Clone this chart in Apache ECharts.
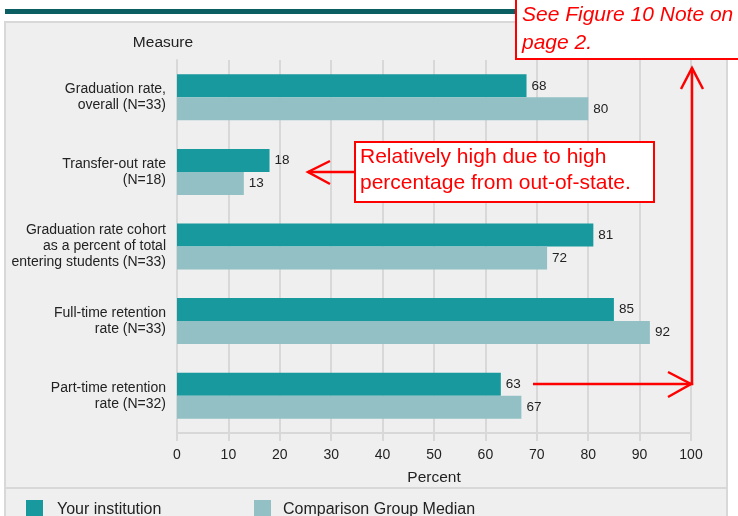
<!DOCTYPE html>
<html>
<head>
<meta charset="utf-8">
<script src="https://cdn.jsdelivr.net/npm/echarts@6/dist/echarts.min.js"></script>
<style>
  html, body { margin: 0; padding: 0; background: #fff; }
</style>
</head>
<body>
<div id="main" style="width: 738px;height:516px;"></div>
<script>
// data
var categories = [
  "Graduation rate,\noverall (N=33)",
  "Transfer-out rate\n(N=18)",
  "Graduation rate cohort\nas a percent of total\nentering students (N=33)",
  "Full-time retention\nrate (N=33)",
  "Part-time retention\nrate (N=32)"
];
var yourInstitution = [68, 18, 81, 85, 63];
var comparisonMedian = [80, 13, 72, 92, 67];
var seriesNames = ["Your institution", "Comparison Group Median"];
var xMin = 0, xMax = 100, xStep = 10;

var FONT = "'Liberation Sans', Arial, sans-serif";
var RED = "#ff0000";
var GRID_GRAY = "#d8d8d8";

var chartDom = document.getElementById("main");
var myChart = echarts.init(chartDom, null, { renderer: "canvas" });

var option = {
  animation: false,
  textStyle: { fontFamily: FONT },
  grid: { left: 177, right: 47, top: 60, bottom: 83 },
  // legend: two separate pieces so they sit where the original has them
  legend: [
    {
      left: 26, top: 500, padding: 0,
      data: [seriesNames[0]],
      icon: "rect", itemWidth: 17, itemHeight: 20,
      textStyle: { color: "#222", fontSize: 16, fontFamily: FONT, padding: [0, 0, 0, 9] }
    },
    {
      left: 254, top: 500, padding: 0,
      data: [seriesNames[1]],
      icon: "rect", itemWidth: 17, itemHeight: 20,
      textStyle: { color: "#222", fontSize: 16, fontFamily: FONT, padding: [0, 0, 0, 7] }
    }
  ],
  xAxis: {
    type: "value",
    min: xMin, max: xMax, interval: xStep,
    name: "Percent",
    nameLocation: "middle",
    nameGap: 37,
    nameTextStyle: { color: "#222", fontSize: 15.5, fontFamily: FONT },
    axisLine: { show: true, lineStyle: { color: GRID_GRAY, width: 2 } },
    axisTick: { show: true, length: 8, lineStyle: { color: GRID_GRAY, width: 2 } },
    axisLabel: { color: "#222", fontSize: 14, margin: 15, fontFamily: FONT },
    splitLine: { show: true, lineStyle: { color: GRID_GRAY, width: 2 } }
  },
  yAxis: {
    type: "category",
    data: categories,
    inverse: true,
    axisLine: { show: true, lineStyle: { color: GRID_GRAY, width: 2 } },
    axisTick: { show: false },
    axisLabel: {
      color: "#222", fontSize: 14, lineHeight: 16, margin: 11,
      align: "right", fontFamily: FONT
    }
  },
  series: [
    {
      name: seriesNames[0],
      type: "bar",
      data: yourInstitution,
      barWidth: 23,
      barGap: "0%",
      itemStyle: { color: "#17999e" },
      label: { show: true, position: "right", distance: 5, color: "#222", fontSize: 13.5, fontFamily: FONT }
    },
    {
      name: seriesNames[1],
      type: "bar",
      data: comparisonMedian,
      barWidth: 23,
      barGap: "0%",
      itemStyle: { color: "#92c0c5" },
      label: { show: true, position: "right", distance: 5, color: "#222", fontSize: 13.5, fontFamily: FONT }
    }
  ],
  graphic: [
    // top rule
    { type: "rect", z: -10, shape: { x: 5, y: 9, width: 515, height: 5 }, style: { fill: "#0b5f63" } },
    // grey panel
    { type: "rect", z: -10, shape: { x: 5, y: 22, width: 722, height: 520 }, style: { fill: "#efefef", stroke: GRID_GRAY, lineWidth: 2 } },
    // legend separator
    { type: "line", z: -9, shape: { x1: 5, y1: 488, x2: 727, y2: 488 }, style: { stroke: GRID_GRAY, lineWidth: 2 } },
    { type: "text", z: 5, style: { x: 163, y: 43, text: "Measure", fill: "#222", fontSize: 15.5, fontFamily: FONT, textAlign: "center", textVerticalAlign: "middle" } },

    // callout: see figure note
    { type: "rect", z: 20, shape: { x: 516, y: -2, width: 240, height: 61 }, style: { fill: "#fff", stroke: RED, lineWidth: 2 } },
    { type: "text", z: 21, style: { x: 522, y: 15, text: "See Figure 10 Note on", fill: RED, fontSize: 21, fontStyle: "italic", fontFamily: FONT, textVerticalAlign: "middle" } },
    { type: "text", z: 21, style: { x: 522, y: 43, text: "page 2.", fill: RED, fontSize: 21, fontStyle: "italic", fontFamily: FONT, textVerticalAlign: "middle" } },

    // arrow up the right side
    { type: "polyline", z: 20, shape: { points: [[533, 384], [692, 384], [692, 68]] }, style: { stroke: RED, lineWidth: 2.5, fill: null } },
    { type: "polyline", z: 20, shape: { points: [[668, 372], [691, 384], [668, 397]] }, style: { stroke: RED, lineWidth: 2.5, fill: null } },
    { type: "polyline", z: 20, shape: { points: [[681, 89], [692, 68], [703, 89]] }, style: { stroke: RED, lineWidth: 2.5, fill: null } },

    // callout: transfer-out
    { type: "rect", z: 20, shape: { x: 355, y: 142, width: 299, height: 60 }, style: { fill: "#fff", stroke: RED, lineWidth: 2 } },
    { type: "text", z: 21, style: { x: 360, y: 157, text: "Relatively high due to high", fill: RED, fontSize: 21, fontFamily: FONT, textVerticalAlign: "middle" } },
    { type: "text", z: 21, style: { x: 360, y: 183, text: "percentage from out-of-state.", fill: RED, fontSize: 21, fontFamily: FONT, textVerticalAlign: "middle" } },
    { type: "line", z: 20, shape: { x1: 355, y1: 172, x2: 308, y2: 172 }, style: { stroke: RED, lineWidth: 2.5 } },
    { type: "polyline", z: 20, shape: { points: [[330, 161], [308, 172], [330, 184]] }, style: { stroke: RED, lineWidth: 2.5, fill: null } }
  ]
};
option && myChart.setOption(option);
</script>
</body>
</html>
